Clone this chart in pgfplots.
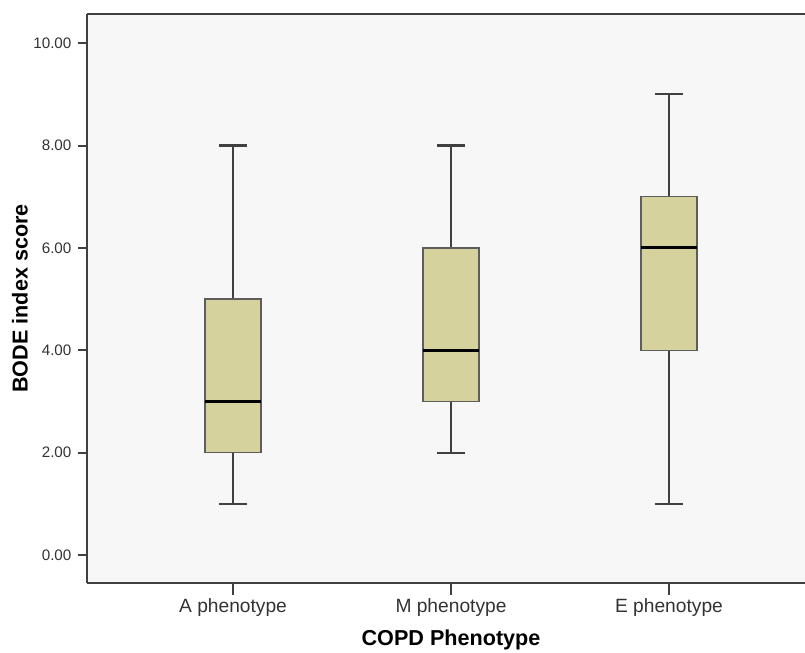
\documentclass[border=0pt]{standalone}
\usepackage{fontspec}
\setmainfont{Liberation Sans}
\usepackage{pgfplots}
\pgfplotsset{compat=1.18}
\usepgfplotslibrary{statistics}
\definecolor{bg}{RGB}{247,247,247}
\definecolor{boxfill}{RGB}{214,210,158}
\definecolor{frame}{RGB}{64,64,64}
\begin{document}
\begin{tikzpicture}
\begin{axis}[
  scale only axis,
  width=359pt, height=284.5pt,
  xmin=-0.67, xmax=2.624,
  ymin=-0.547, ymax=10.57,
  axis x line*=bottom, axis y line*=left,
  axis line style={frame, line width=1pt},
  axis background/.style={fill=bg},
  xtick={0,1,2},
  xticklabels={A phenotype, M phenotype, E phenotype},
  ytick={0,2,4,6,8,10},
  tick align=outside,
  xtick style={frame, line width=0.8pt, /pgfplots/major tick length=6pt},
  ytick style={frame, line width=1pt, /pgfplots/major tick length=4.5pt},
  yticklabel style={/pgf/number format/.cd, fixed, fixed zerofill, precision=2, /tikz/.cd, font=\fontsize{7.6pt}{8pt}\selectfont, text=black!80},
  xticklabel style={font=\fontsize{9.6pt}{11pt}\selectfont, text=black!80},
  /pgf/number format/assume math mode=true,
  xlabel={COPD Phenotype}, ylabel={BODE index score},
  xlabel style={font=\fontsize{10.8pt}{12pt}\selectfont\bfseries, at={(axis description cs:0.507,-0.1)}, anchor=center},
  ylabel style={font=\fontsize{10.8pt}{12pt}\selectfont\bfseries, at={(axis description cs:-0.0933,0.5)}, anchor=center},
  boxplot/draw direction=y,
  boxplot/box extend=0.257,
  boxplot/whisker extend=0.125,
  boxplot/every box/.style={draw=frame!85, fill=boxfill, line width=0.6pt},
  boxplot/every whisker/.style={draw=frame, line width=1.1pt},
  boxplot/every median/.style={draw=black, line width=1.5pt},
]
\addplot[boxplot prepared={lower whisker=1, lower quartile=2, median=3, upper quartile=5, upper whisker=8, draw position=0}] coordinates {};
\addplot[boxplot prepared={lower whisker=2, lower quartile=3, median=4, upper quartile=6, upper whisker=8, draw position=1}] coordinates {};
\addplot[boxplot prepared={lower whisker=1, lower quartile=4, median=6, upper quartile=7, upper whisker=9, draw position=2}] coordinates {};
\draw[frame, line width=1pt] (rel axis cs:0,1) -- (rel axis cs:1,1);
\coordinate (sw) at (rel axis cs:0,0);
\end{axis}
\pgfresetboundingbox
\path[use as bounding box] ([xshift=-43.5pt,yshift=-35pt]sw) rectangle ([xshift=359pt,yshift=291.5pt]sw);
\end{tikzpicture}
\end{document}
